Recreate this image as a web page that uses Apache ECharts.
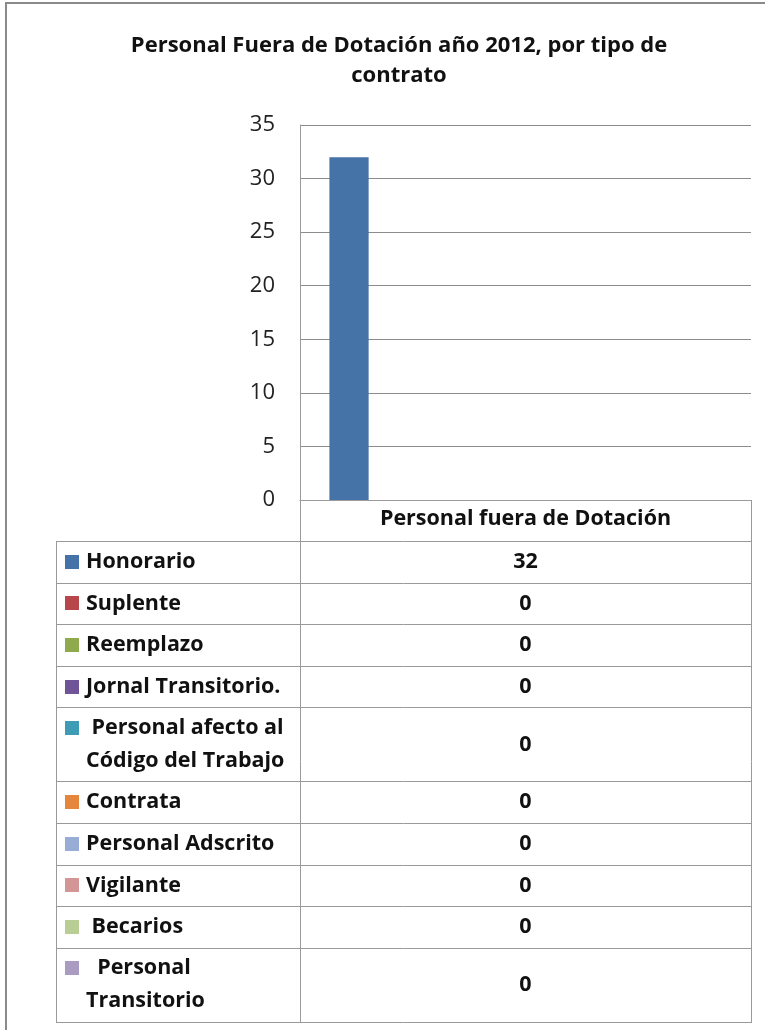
<!DOCTYPE html>
<html>
<head>
<meta charset="utf-8">
<title>Personal Fuera de Dotación año 2012</title>
<script src="https://cdn.jsdelivr.net/npm/echarts@6/dist/echarts.min.js"></script>
<style>
  html, body { margin: 0; padding: 0; background: #fff; }
  #chart { width: 765px; height: 1030px; }
</style>
</head>
<body>
<div id="chart"></div>
<script>
'use strict';

// data
const categories = ['Personal fuera de Dotación'];
const seriesNames = [
  'Honorario',
  'Suplente',
  'Reemplazo',
  'Jornal Transitorio.',
  ' Personal afecto al\nCódigo del Trabajo',
  'Contrata',
  'Personal Adscrito',
  'Vigilante',
  ' Becarios',
  '  Personal\nTransitorio'
];
const seriesValues = [32, 0, 0, 0, 0, 0, 0, 0, 0, 0];
const seriesColors = [
  '#4572A7', '#B7474A', '#8EAA4C', '#6F5497', '#3E9DB5',
  '#E6853C', '#97ADD6', '#D39596', '#B8CE95', '#A99BC2'
];
const yMin = 0;
const yMax = 35;
const yStep = 5;

// layout
const FONT = '"Open Sans", sans-serif';
const TSIZE = 21.5;
const plot = { left: 300, top: 125, right: 751, bottom: 500 };
const tableLeft = 56;
const headerBottom = 541;
const rowH1 = 41.6;
const rowH2 = 74;
const lineColor = '#9a9a9a';

function hline(y, x1, x2) {
  return {
    type: 'line', silent: true,
    shape: { x1: x1, y1: y + 0.5, x2: x2, y2: y + 0.5 },
    style: { stroke: lineColor, lineWidth: 1 }
  };
}

function vline(x, y1, y2) {
  return {
    type: 'line', silent: true,
    shape: { x1: x + 0.5, y1: y1, x2: x + 0.5, y2: y2 },
    style: { stroke: lineColor, lineWidth: 1 }
  };
}

function txt(s, x, y, align) {
  return {
    type: 'text', silent: true,
    style: {
      text: s, x: x, y: y,
      fontFamily: FONT, fontSize: TSIZE, fontWeight: 'bold',
      fill: '#111', align: align, verticalAlign: 'middle'
    }
  };
}

function makeTable() {
  const g = [];
  const valueX = (plot.left + plot.right) / 2;
  let y = headerBottom;
  g.push(hline(headerBottom, tableLeft, plot.right));
  seriesNames.forEach((name, i) => {
    const lines = name.split('\n');
    const h = lines.length > 1 ? rowH2 : rowH1;
    const mid = y + h / 2;
    const first = mid - (lines.length - 1) * 33 / 2;
    g.push({
      type: 'rect', silent: true,
      shape: { x: 65, y: Math.round(first) - 7, width: 14, height: 14 },
      style: { fill: seriesColors[i] }
    });
    lines.forEach((l, k) => {
      g.push(txt(l, 86, first + k * 33, 'left'));
    });
    g.push(txt(String(seriesValues[i]), valueX, mid, 'center'));
    y += h;
    g.push(hline(Math.round(y), tableLeft, plot.right));
  });
  const bottom = Math.round(y) + 1;
  g.push(vline(tableLeft, headerBottom, bottom));
  g.push(vline(plot.left, plot.bottom, bottom));
  g.push(vline(plot.right, plot.bottom, bottom));
  // outer chart border
  g.push({
    type: 'rect', silent: true,
    shape: { x: 6, y: 3, width: 800, height: 1100 },
    style: { fill: 'none', stroke: '#8a8a8a', lineWidth: 2 }
  });
  return g;
}

function makeChart() {
  const series = seriesNames.map((name, i) => ({
    name: name,
    type: 'bar',
    barGap: '0%',
    barCategoryGap: '13.04%',
    itemStyle: { color: seriesColors[i] },
    data: [seriesValues[i]]
  }));
  const option = {
    animation: false,
    title: {
      text: 'Personal Fuera de Dotación año 2012, por tipo de\ncontrato',
      left: 394,
      textAlign: 'center',
      top: 26,
      textStyle: {
        fontFamily: FONT, fontSize: 22, fontWeight: 'bold',
        color: '#111', lineHeight: 30
      }
    },
    grid: {
      left: plot.left,
      top: plot.top,
      width: plot.right - plot.left,
      height: plot.bottom - plot.top,
      containLabel: false
    },
    xAxis: {
      type: 'category',
      data: categories,
      axisTick: { show: false },
      axisLine: { show: true, lineStyle: { color: lineColor, width: 1 } },
      axisLabel: {
        margin: 8,
        fontFamily: FONT, fontSize: TSIZE, fontWeight: 'bold', color: '#111'
      }
    },
    yAxis: {
      type: 'value',
      min: yMin,
      max: yMax,
      interval: yStep,
      axisTick: { show: false },
      axisLine: { show: true, lineStyle: { color: lineColor, width: 1 } },
      splitLine: { lineStyle: { color: '#8c8c8c', width: 1 } },
      axisLabel: {
        margin: 25,
        fontFamily: FONT, fontSize: 22, color: '#222'
      }
    },
    series: series,
    graphic: makeTable()
  };
  const chart = echarts.init(document.getElementById('chart'), null, { renderer: 'canvas' });
  chart.setOption(option);
}

makeChart();
</script>
</body>
</html>
